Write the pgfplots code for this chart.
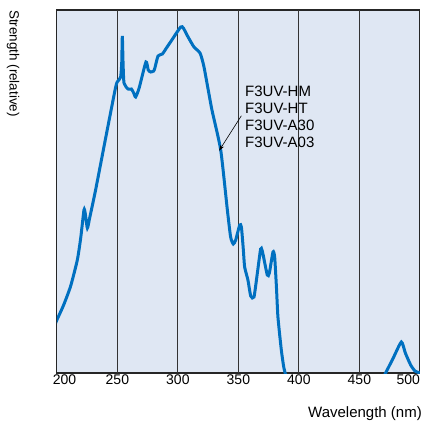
\documentclass[border=0pt]{standalone}
\usepackage{pgfplots}
\pgfplotsset{compat=1.18}
\usetikzlibrary{arrows.meta}
\usepackage{fontspec}
\setmainfont{Liberation Sans}
\definecolor{bgblue}{RGB}{223,231,243}
\definecolor{lineblue}{RGB}{0,112,192}
\begin{document}
\begin{tikzpicture}[x=1pt,y=1pt]
\useasboundingbox (0,0) rectangle (423,-424);
\begin{axis}[
  at={(47,-373)}, anchor=south west,
  scale only axis, width=363pt, height=363pt,
  xmin=200, xmax=500, ymin=0, ymax=363,
  axis background/.style={fill=bgblue},
  axis line style={line width=1.2pt, draw=black!85},
  xtick={200,250,300,350,400,450,500},
  xticklabels={\makebox[0pt][l]{\kern-4pt 200},250,300,350,400,450,\makebox[0pt][r]{500}},
  ytick=\empty,
  major tick length=0pt,
  xticklabel style={font=\fontsize{14}{16}\selectfont, yshift=2pt},
  grid=none,
  clip=true,
]
\foreach \g in {250,300,350,400,450}{
  \edef\tmp{\noexpand\draw[black!80, line width=0.9pt] (axis cs:\g,0) -- (axis cs:\g,363);}
  \tmp
}
\addplot[lineblue, line width=3pt, smooth, tension=0.35] coordinates {
(199,50) (200,53) (205.6,68) (211.4,87) (216.9,113) (219.7,135) (222.4,163) (223.4,160)
(225.2,145) (227.1,155) (232,183) (240,233) (248.6,286) (250.5,292) (252.7,296)
(253.6,310) (254.1,337) (254.7,310) (255.5,290) (258.8,284) (261.6,284) (263.5,280)
(265.1,276) (268,285) (273.6,311) (275.5,303) (277.5,301) (280,302) (281,305)
(283.6,317) (287.2,319) (290,324) (295,333) (302.3,346) (304.5,345) (308,337)
(313.3,326) (318.3,320) (321.6,306) (328,264) (335.4,223) (340.9,163) (343.6,136)
(345.8,129) (347.8,133) (351.1,148) (352.5,146) (354,125) (355.2,106) (357.9,93)
(360.2,77) (362.9,76) (365.7,100) (368.4,124) (369.8,122) (373.9,98) (375.6,100)
(378.6,121) (380,116) (381.5,85) (382.7,56) (385.5,23) (387.5,6) (389.5,-4)
};
\addplot[lineblue, line width=3pt, smooth, tension=0.35] coordinates {
(470,-4) (471.7,0) (478,15) (484.7,31) (488,20) (492.4,8) (496,2) (500,0)
};
\draw[-{Stealth[length=6pt,width=4pt]}, line width=0.6pt, black] (axis cs:352.5,257.3) -- (axis cs:334.1,222.3);
\node[anchor=north west, align=left, font=\fontsize{15}{16.8}\selectfont, inner sep=0pt] at (axis cs:355.5,287) {F3UV-HM\\F3UV-HT\\F3UV-A30\\F3UV-A03};
\end{axis}
\node[rotate=-90, anchor=west, font=\fontsize{13.4}{16}\selectfont, inner sep=0pt] at (13,-10) {Strength (relative)};
\node[anchor=east, font=\fontsize{15}{16}\selectfont, inner sep=0pt] at (422,-414) {Wavelength (nm)};
\end{tikzpicture}
\end{document}
